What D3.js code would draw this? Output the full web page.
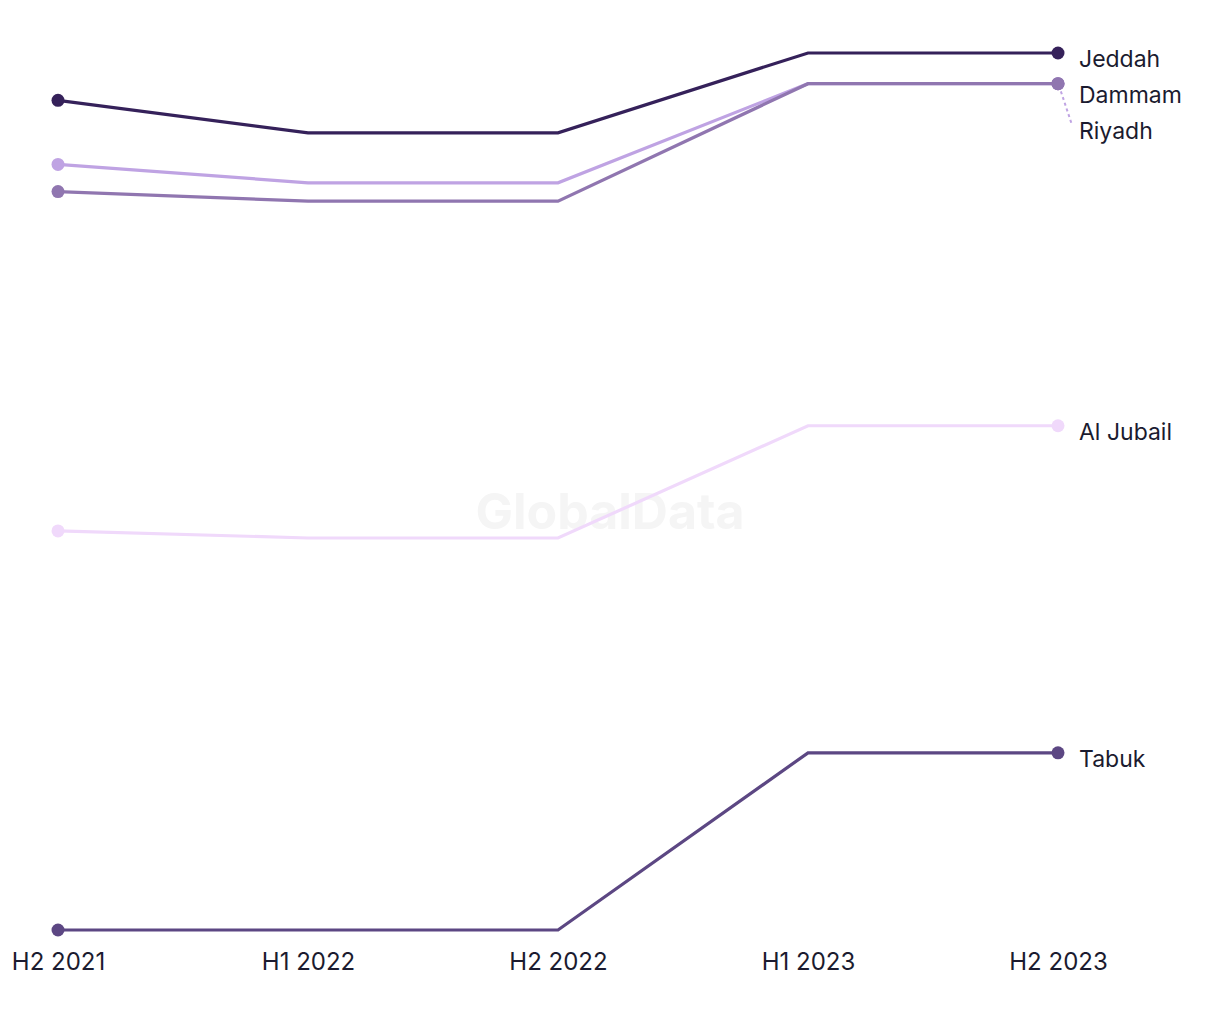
<!DOCTYPE html>
<html>
<head>
<meta charset="utf-8">
<script src="https://cdn.jsdelivr.net/npm/d3@7"></script>
<style>
  body { margin: 0; background: #fff; }
  svg text { font-family: Inter, "Noto Sans", sans-serif; }
</style>
</head>
<body>
<svg class="chart" width="1220" height="1020"></svg>
<script>
const periods = ["H2 2021", "H1 2022", "H2 2022", "H1 2023", "H2 2023"]

// values (relative index, no axis shown)
const jeddah = [94.6, 90.9, 90.9, 100, 100]
const riyadh = [87.3, 85.2, 85.2, 96.5, 96.5]
const dammam = [84.2, 83.1, 83.1, 96.5, 96.5]
const alJubail = [45.5, 44.7, 44.7, 57.5, 57.5]
const tabuk = [0, 0, 0, 20.2, 20.2]

const cities = ["Al Jubail", "Riyadh", "Dammam", "Tabuk", "Jeddah"]
const cityValues = [alJubail, riyadh, dammam, tabuk, jeddah]
const cityColors = ["#f0d9fb", "#bfa3e3", "#9076b0", "#5c4783", "#35215a"]

const series = cities.map((name, i) => ({ name, values: cityValues[i], color: cityColors[i] }))

const svg = d3.select("svg.chart")

const x = d3.scalePoint()
    .domain(periods)
    .range([58, 1058])

const y = d3.scaleLinear()
    .domain([0, 100])
    .range([930, 53])

// watermark
svg.append("text")
    .attr("x", 610)
    .attr("y", 529)
    .attr("text-anchor", "middle")
    .style("font-size", "50px")
    .style("font-weight", "700")
    .style("fill", "#f5f5f5")
    .text("GlobalData")

// x axis labels only
const xAxis = svg.append("g")
    .attr("transform", "translate(0,963)")
    .call(d3.axisBottom(x).tickSize(0).tickPadding(0))
xAxis.select(".domain").remove()
xAxis.selectAll("text")
    .style("font-size", "24px")
    .style("font-family", "Inter, sans-serif")
    .style("fill", "#1b1b2f")
    .attr("dy", "0.3em")

const line = d3.line()
    .x((d, i) => x(periods[i]))
    .y(d => y(d))

const groups = svg.selectAll("g.city")
    .data(series)
    .enter()
    .append("g")
    .attr("class", "city")

groups.append("path")
    .attr("d", d => line(d.values))
    .style("fill", "none")
    .style("stroke", d => d.color)
    .style("stroke-width", 3.2)

groups.selectAll("circle")
    .data(d => [0, periods.length - 1].map(i => ({ i, v: d.values[i], color: d.color })))
    .enter()
    .append("circle")
    .attr("cx", d => x(periods[d.i]))
    .attr("cy", d => y(d.v))
    .attr("r", 6.5)
    .style("fill", d => d.color)

// end labels, pushed apart so they don't overlap
const last = periods.length - 1
const labels = series.map(d => ({ name: d.name, color: d.color, py: y(d.values[last]), ly: y(d.values[last]) + 6 }))
const order = ["Jeddah", "Dammam", "Riyadh", "Al Jubail", "Tabuk"]
labels.sort((a, b) => a.ly - b.ly || order.indexOf(a.name) - order.indexOf(b.name))
for (let k = 1; k < labels.length; k++) {
    if (labels[k].ly - labels[k - 1].ly < 36) labels[k].ly = labels[k - 1].ly + 36
}

const labelX = 1079
svg.selectAll("line.leader")
    .data(labels.filter(d => d.ly - d.py > 20))
    .enter()
    .append("line")
    .attr("class", "leader")
    .attr("x1", 1059)
    .attr("y1", d => d.py + 2)
    .attr("x2", 1072)
    .attr("y2", d => d.ly - 6)
    .style("stroke", d => d.color)
    .style("stroke-width", 2)
    .style("stroke-dasharray", "3,3")

// redraw Dammam's end dot above the leader
svg.append("circle")
    .attr("cx", x(periods[last]))
    .attr("cy", y(dammam[last]))
    .attr("r", 6.5)
    .style("fill", cityColors[2])

svg.selectAll("text.label")
    .data(labels)
    .enter()
    .append("text")
    .attr("class", "label")
    .attr("x", labelX)
    .attr("y", d => d.ly)
    .attr("dy", "0.35em")
    .style("font-size", "23px")
    .style("fill", "#1b1b2f")
    .text(d => d.name)
</script>
</body>
</html>
